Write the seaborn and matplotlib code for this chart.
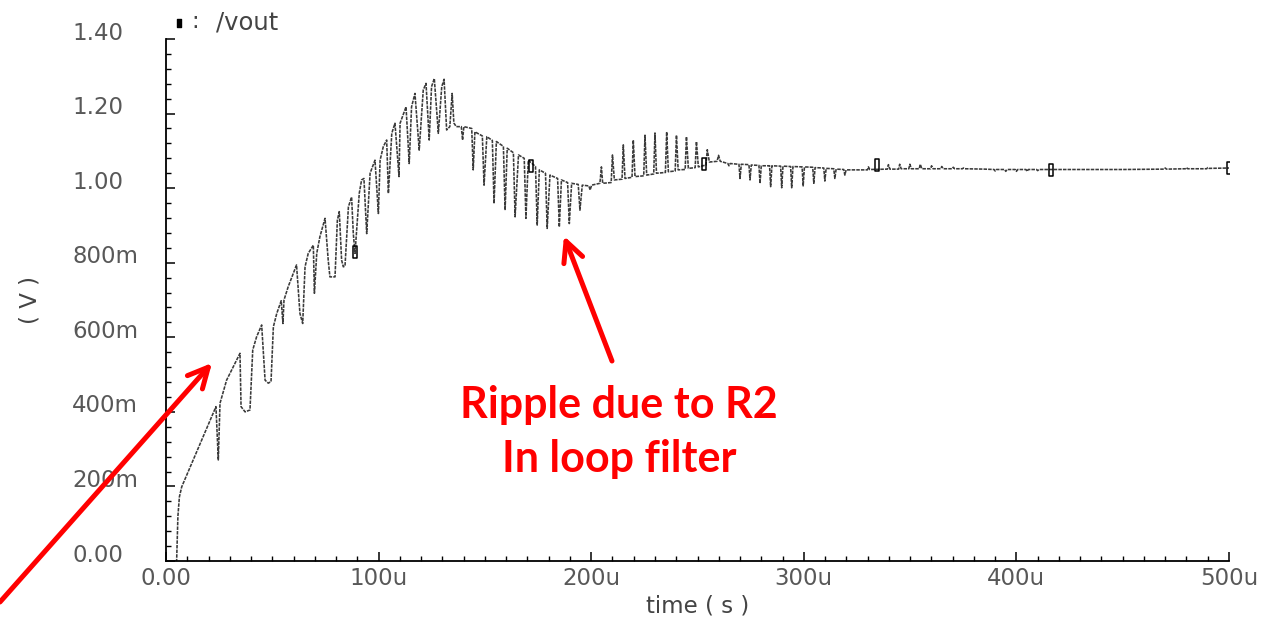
import numpy as np
import pandas as pd
import matplotlib
matplotlib.use("Agg")
import matplotlib.pyplot as plt
import seaborn as sns
from matplotlib.path import Path
from matplotlib.lines import Line2D
from matplotlib.ticker import MultipleLocator
from matplotlib.transforms import ScaledTranslation

# ---------------- data ----------------
time_us = [
    0.0, 5.0, 5.6, 6.3, 7.4, 12.8, 17.5, 23.5, 24.6, 25.4, 28.5, 34.8, 35.3, 37.2, 39.5,
    40.8, 42.6, 45.0, 46.6, 48.1, 49.4, 50.5, 52.1, 54.2, 55.0, 55.5, 57.5, 61.4, 63.0,
    64.3, 65.4, 66.9, 69.3, 69.8, 70.9, 72.4, 74.8, 76.3, 77.1, 79.5, 80.6, 81.5, 82.6,
    83.4, 84.2, 85.8, 87.3, 88.1, 88.9, 90.9, 92.0, 93.1, 94.4, 96.0, 98.3, 99.9, 100.7,
    102.2, 103.8, 104.6, 106.2, 107.7, 109.6, 110.1, 112.9, 114.4, 115.5, 117.1, 119.1,
    121.0, 122.3, 123.8, 124.9, 126.2, 128.1, 129.7, 130.8, 132.0, 133.5, 134.6, 135.4,
    136.5, 138.9, 139.5, 140.1, 143.8, 144.5, 145.3, 148.8, 149.6, 150.9, 153.5, 154.3,
    155.4, 158.7, 159.5, 160.5, 163.4, 164.2, 165.8, 168.5, 169.3, 170.4, 173.8, 174.6,
    175.6, 178.5, 179.3, 180.6, 184.2, 185.0, 186.0, 188.9, 189.7, 190.8, 193.9, 194.7,
    195.8, 198.9, 199.5, 200.2, 204.1, 204.8, 205.4, 209.4, 210.0, 210.9, 214.5, 215.1,
    215.9, 219.2, 219.8, 220.6, 224.7, 225.3, 226.1, 229.4, 230.0, 230.7, 234.9, 235.5,
    236.3, 239.5, 240.1, 240.9, 244.2, 244.8, 245.7, 248.9, 249.5, 250.4, 254.0, 254.6,
    255.6, 259.2, 259.9, 260.7, 264.3, 264.8, 265.4, 269.5, 270.0, 270.6, 274.2, 274.7,
    275.3, 278.9, 279.4, 280.0, 283.9, 284.4, 285.0, 289.1, 289.6, 290.2, 293.8, 294.3,
    294.9, 299.2, 299.7, 300.3, 304.2, 304.7, 305.3, 309.4, 309.9, 310.5, 314.1, 314.6,
    315.2, 318.8, 319.3, 319.9, 325.0, 329.9, 330.4, 331.0, 339.3, 339.8, 340.5, 344.6,
    345.1, 345.8, 349.4, 349.9, 350.6, 354.3, 354.8, 355.5, 359.6, 360.1, 360.8, 364.4,
    364.9, 365.6, 369.8, 370.3, 371.0, 374.6, 375.1, 375.8, 385.0, 389.5, 390.0, 390.6,
    394.5, 395.0, 395.6, 399.5, 400.0, 400.6, 404.5, 405.0, 405.6, 409.5, 410.0, 410.6,
    430.0, 450.0, 469.5, 470.0, 470.6, 479.5, 480.0, 480.6, 489.5, 490.0, 490.6, 500.0,
]
vout_v = [
    0.000, 0.000, 0.120, 0.172, 0.199, 0.271, 0.333, 0.414, 0.271, 0.423, 0.485, 0.557, 0.414, 0.400, 0.405,
    0.566, 0.601, 0.633, 0.485, 0.477, 0.481, 0.628, 0.664, 0.698, 0.637, 0.700, 0.736, 0.794, 0.664,
    0.637, 0.789, 0.825, 0.847, 0.718, 0.825, 0.870, 0.919, 0.807, 0.762, 0.762, 0.914, 0.937, 0.807,
    0.789, 0.791, 0.950, 0.976, 0.878, 0.825, 0.986, 1.022, 1.026, 0.878, 1.040, 1.075, 0.932, 1.075,
    1.111, 1.129, 0.986, 1.147, 1.174, 1.031, 1.174, 1.218, 1.066, 1.218, 1.254, 1.102,
    1.263, 1.281, 1.129, 1.272, 1.294, 1.147, 1.272, 1.292, 1.156, 1.165, 1.254, 1.175,
    1.165, 1.165, 1.129, 1.165, 1.160, 1.049, 1.151, 1.140, 1.008, 1.138, 1.128, 0.959,
    1.125, 1.112, 0.941, 1.107, 1.095, 0.923, 1.089, 1.080, 0.919, 1.075, 1.058, 0.901,
    1.049, 1.040, 0.892, 1.035, 1.026, 0.896, 1.022, 1.015, 0.905, 1.013, 1.010, 0.941,
    1.008, 1.006, 0.995, 1.008, 1.013, 1.057, 1.013, 1.015, 1.089, 1.022, 1.024, 1.116,
    1.026, 1.029, 1.129, 1.031, 1.033, 1.142, 1.035, 1.038, 1.148, 1.040, 1.042, 1.151,
    1.044, 1.046, 1.142, 1.049, 1.050, 1.138, 1.053, 1.055, 1.125, 1.057, 1.062, 1.103,
    1.070, 1.072, 1.088, 1.072, 1.066, 1.060, 1.066, 1.064, 1.026, 1.064, 1.063, 1.022,
    1.062, 1.061, 1.013, 1.060, 1.060, 1.004, 1.060, 1.059, 1.001, 1.059, 1.058, 1.001,
    1.058, 1.057, 1.006, 1.057, 1.056, 1.013, 1.055, 1.054, 1.019, 1.053, 1.052, 1.026,
    1.051, 1.050, 1.035, 1.049, 1.049, 1.049, 1.057, 1.050, 1.051, 1.063, 1.051, 1.051,
    1.064, 1.052, 1.052, 1.064, 1.052, 1.052, 1.064, 1.052, 1.052, 1.060, 1.052, 1.052,
    1.058, 1.052, 1.052, 1.056, 1.052, 1.052, 1.054, 1.052, 1.051, 1.050, 1.046, 1.050,
    1.050, 1.045, 1.050, 1.050, 1.045, 1.050, 1.050, 1.045, 1.050, 1.050, 1.047, 1.050,
    1.050, 1.050, 1.051, 1.054, 1.051, 1.052, 1.055, 1.052, 1.052, 1.055, 1.053, 1.054,
]

marker_time_us = [88.9, 171.7, 253.0, 334.4, 416.3, 500.0]
marker_vout_v = [0.829, 1.059, 1.065, 1.062, 1.049, 1.054]

x_ticks = [0, 100, 200, 300, 400, 500]
x_tick_labels = ["0.00", "100u", "200u", "300u", "400u", "500u"]
y_ticks = [0.0, 0.2, 0.4, 0.6, 0.8, 1.0, 1.2, 1.4]
y_tick_labels = ["0.00", "200m", "400m", "600m", "800m", "1.00", "1.20", "1.40"]

x_title = "time ( s )"
y_title = "( V )"
legend_sep = ":"
legend_name = "/vout"
note_text = "Ripple due to R2\nIn loop filter"

# ---------------- figure ----------------
sns.set_theme(style="white")
plt.rcParams["font.family"] = ["DejaVu Sans"]

W, H = 1268, 623
fig = plt.figure(figsize=(W / 100, H / 100), dpi=100)
fig.patch.set_facecolor("white")
ax = fig.add_axes([166 / W, 1 - 561 / H, (1229 - 166) / W, (561 - 39) / H])
ax.set_facecolor("white")

df = pd.DataFrame({"time": time_us, "vout": vout_v})
sns.lineplot(data=df, x="time", y="vout", ax=ax, estimator=None, sort=False,
             color="#3a3a3a", linewidth=1.15, linestyle=(0, (2.2, 0.7)))

rect = Path([(-0.4, -1), (0.4, -1), (0.4, 1), (-0.4, 1), (-0.4, -1)],
            [Path.MOVETO, Path.LINETO, Path.LINETO, Path.LINETO, Path.CLOSEPOLY])
ax.plot(marker_time_us, marker_vout_v, ls="none", marker=rect, ms=8,
        mfc="none", mec="black", mew=1.1)

ax.set_xlim(0, 500)
ax.set_ylim(0, 1.4)
for s in ["top", "right"]:
    ax.spines[s].set_visible(False)
for s in ["left", "bottom"]:
    ax.spines[s].set_color("black")
    ax.spines[s].set_linewidth(1.3)

ax.set_xticks(x_ticks)
ax.set_xticklabels(x_tick_labels)
ax.set_yticks(y_ticks)
ax.set_yticklabels(y_tick_labels, ha="left", va="center")
ax.xaxis.set_minor_locator(MultipleLocator(10))
ax.yaxis.set_minor_locator(MultipleLocator(0.04))
ax.tick_params(which="both", direction="in", color="black", labelcolor="#585858",
               labelsize=16.5, bottom=True, left=True)
ax.tick_params(which="major", length=6.5, width=1.1)
ax.tick_params(which="minor", length=3.6, width=1.0)
ax.tick_params(axis="y", which="major", pad=94 / 1.389)
ax.tick_params(axis="x", which="major", pad=4.5)
off = ScaledTranslation(0, 6 / 100, fig.dpi_scale_trans)
for lab in ax.get_yticklabels():
    lab.set_transform(lab.get_transform() + off)

ax.set_xlabel(x_title, fontsize=16.5, color="#444444")
ax.xaxis.set_label_coords(0.5, (561 - 606) / 522)
ax.xaxis.label.set_va("center")
ax.set_ylabel(y_title, fontsize=16.5, color="#444444")
ax.yaxis.set_label_coords((30 - 166) / 1063, 0.5)
ax.yaxis.label.set_va("center")

# legend line at the top
fig.add_artist(Line2D([179 / W], [1 - 23 / H], transform=fig.transFigure, ls="none",
                      marker=rect, ms=6, mfc="black", mec="black"))
fig.text(191 / W, 1 - 22 / H, legend_sep, fontsize=16.5, color="#444444",
         ha="left", va="center")
fig.text(216 / W, 1 - 22 / H, legend_name, fontsize=17.5, color="#444444",
         ha="left", va="center")

# red annotation arrows and text
arrow_kw = dict(arrowstyle="->,head_length=1.45,head_width=0.72", color="red", lw=3.6,
                shrinkA=0, shrinkB=0, mutation_scale=10)
ax.annotate("", xy=(212, H - 363), xycoords="figure pixels",
            xytext=(0, H - 602), textcoords="figure pixels",
            arrowprops=arrow_kw, annotation_clip=False)
ax.annotate("", xy=(564, H - 236), xycoords="figure pixels",
            xytext=(612, H - 361), textcoords="figure pixels",
            arrowprops=arrow_kw, annotation_clip=False)
fig.text(619 / W, 1 - 432 / H, note_text, color="red", fontsize=31, fontweight="bold",
         family=["Lato", "DejaVu Sans"], ha="center", va="center", linespacing=1.42)

fig.savefig("out.png", dpi=100, facecolor="white")
